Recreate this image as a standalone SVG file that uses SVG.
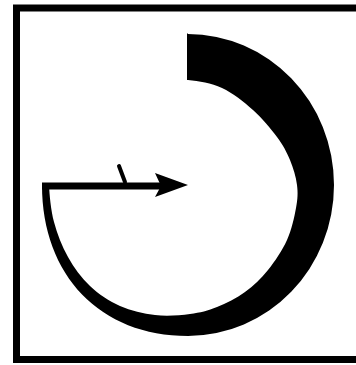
<svg xmlns="http://www.w3.org/2000/svg" width="356" height="365" viewBox="0 0 356 365">
  <style>
    .ink { fill: #000; }
    .frame { fill: none; stroke: #000; stroke-width: 7; stroke-linejoin: miter; }
    .line { fill: none; stroke: #000; stroke-width: 7; stroke-linecap: butt; }
    .tick { fill: none; stroke: #000; stroke-width: 4; stroke-linecap: round; }
  </style>
  <rect width="356" height="365" fill="#fff"/>
  <g id="frame">
    <path class="frame" d="M356,8 L16.5,8 L16.5,359.5 L356,359.5"/>
  </g>
  <g id="spiral">
    <path class="ink" d="M187,33 L188,34 A146,151 0 0 1 334,185 A146,151 0 0 1 188,336
      C100.4,336 42,275.6 42,185 L49,185
      C49.5,195 50.83,210 54,222
      C57.17,234 62,246.33 68,257
      C74,267.67 81.33,277.83 90,286
      C98.67,294.17 109.17,301.17 120,306
      C130.83,310.83 143.33,313.67 155,315
      C166.67,316.33 179.67,315.33 190,314
      C200.33,312.67 207.83,310.67 217,307
      C226.17,303.33 236.5,298.17 245,292
      C253.5,285.83 261,278.67 268,270
      C275,261.33 282.33,250.33 287,240
      C291.67,229.67 294.33,217.17 296,208
      C297.67,198.83 298,193 297,185
      C296,177 293.33,168 290,160
      C286.67,152 283.17,145.33 277,137
      C270.83,128.67 262.17,118.17 253,110
      C243.83,101.83 232.83,93 222,88
      C211.17,83 199,81 188,80
      L187,80 Z"/>
  </g>
  <g id="connectors">
    <line class="line" x1="42" y1="186" x2="165" y2="186"/>
    <path class="ink" d="M155,173 L188,185 L155,197 L161,186 Z"/>
  </g>
  <g id="tick">
    <line class="tick" x1="119" y1="166" x2="125" y2="182"/>
  </g>
</svg>
